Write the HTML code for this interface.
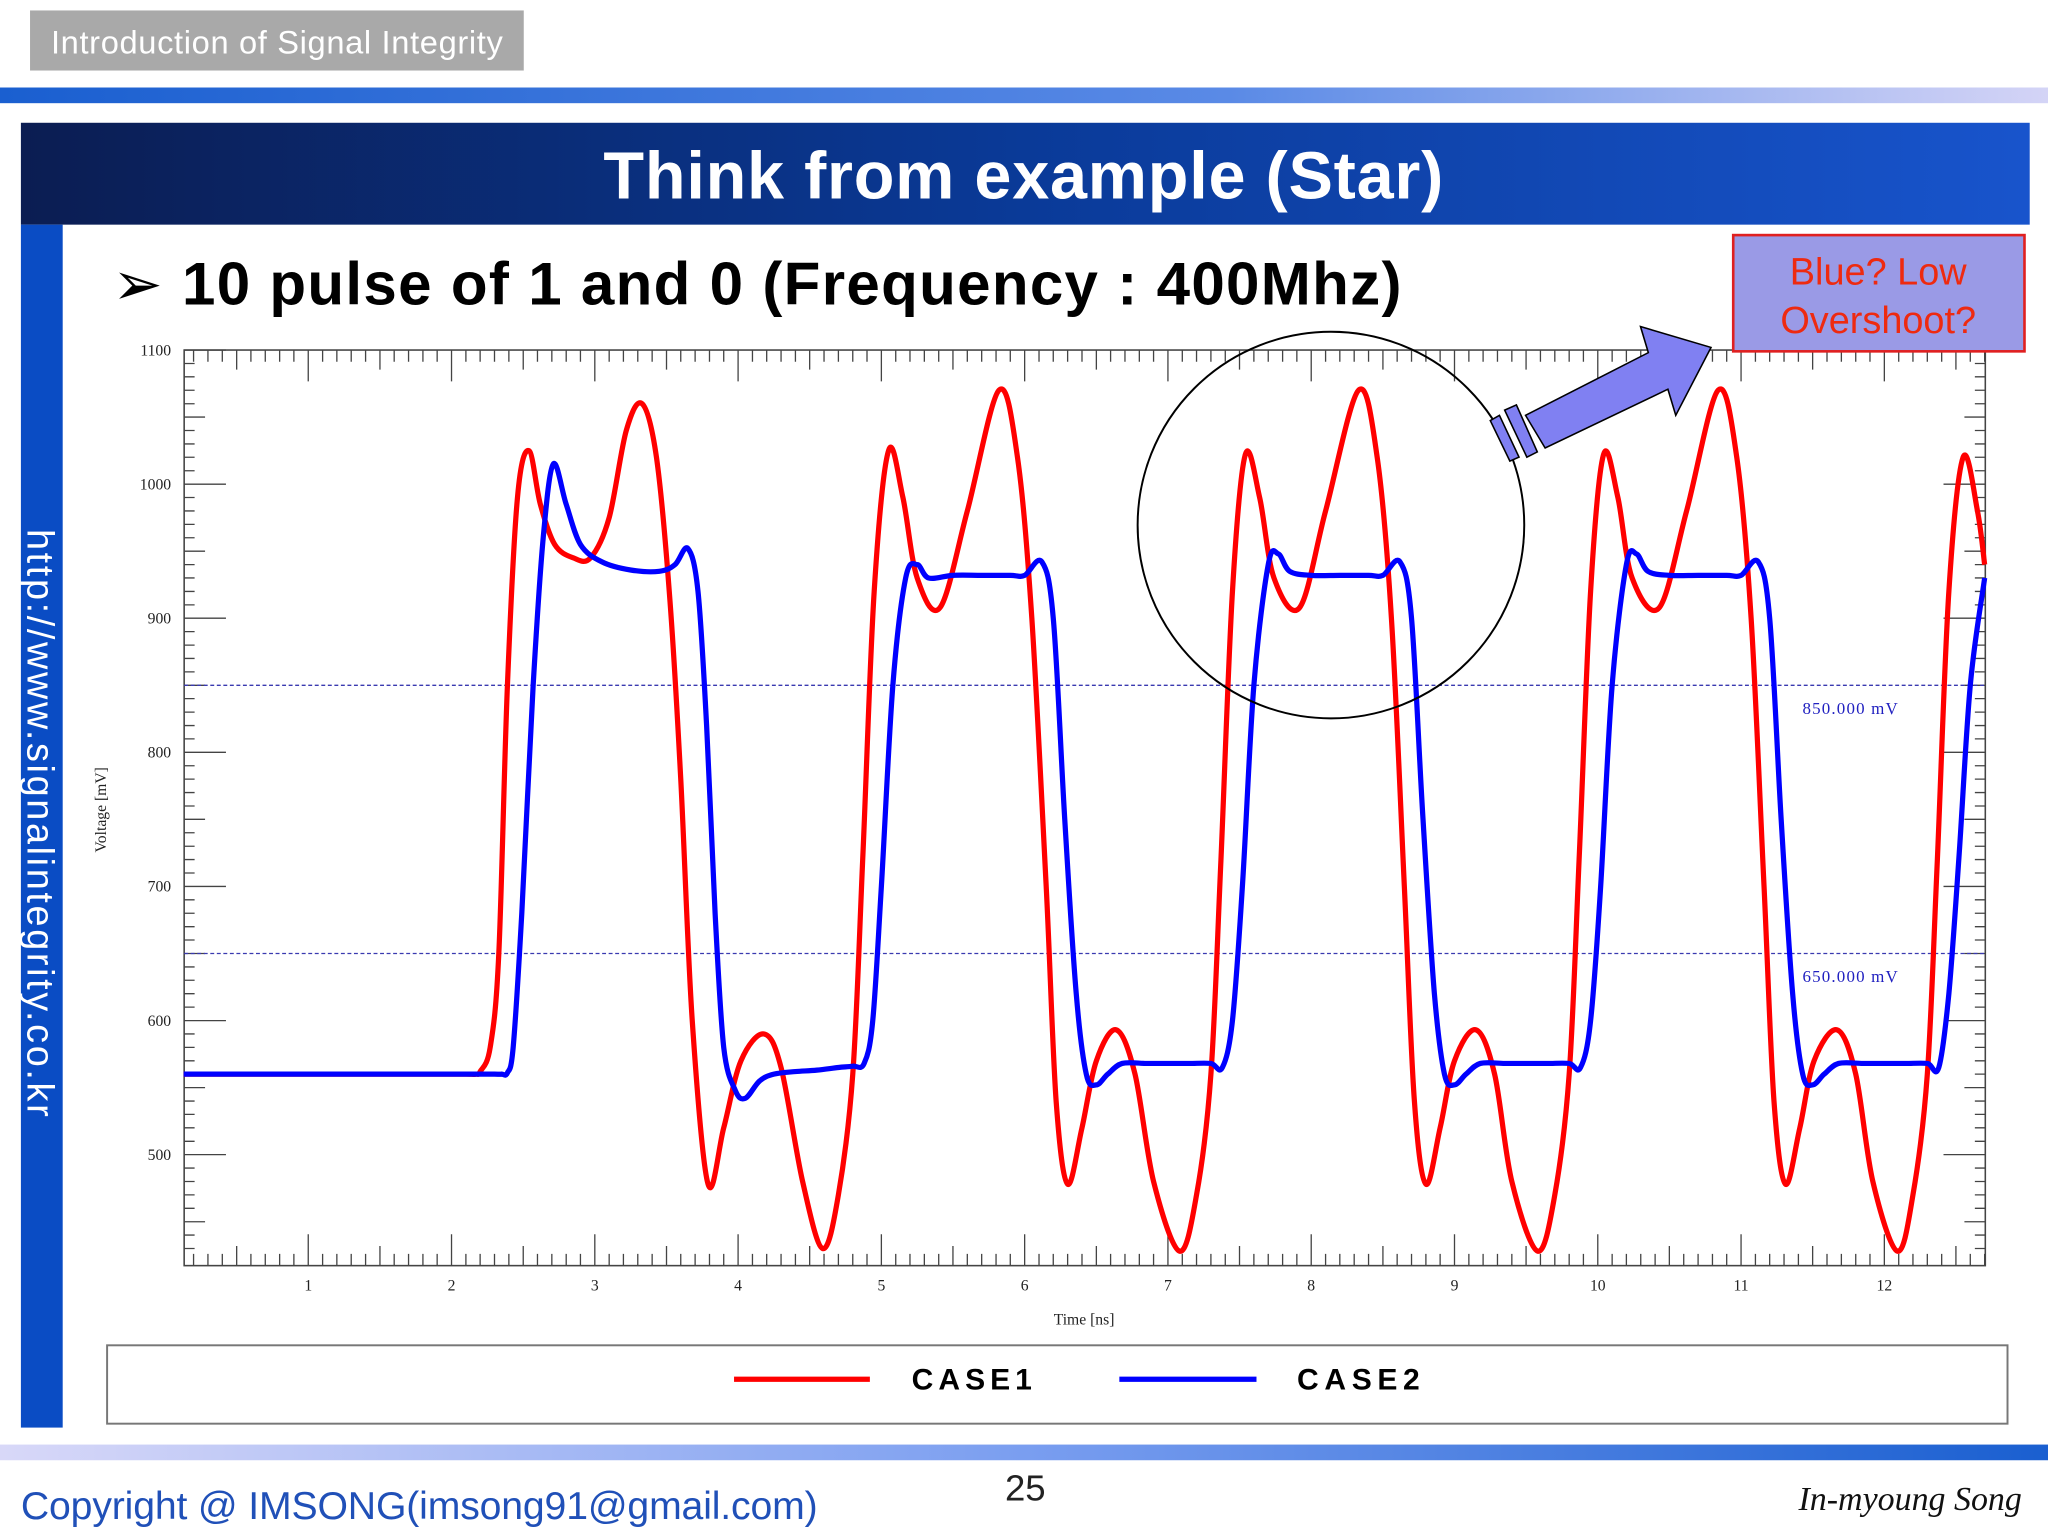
<!DOCTYPE html>
<html><head><meta charset="utf-8"><style>
html,body{margin:0;padding:0;background:#fff;}
svg{display:block;}
</style></head><body>
<svg id="slide" width="2048" height="1536" viewBox="0 0 1568 1176" xmlns="http://www.w3.org/2000/svg">
<defs>
<linearGradient id="topbar" x1="0" x2="1"><stop offset="0" stop-color="#1a5fd0"/><stop offset="0.6" stop-color="#5a8ae6"/><stop offset="1" stop-color="#d4d4f6"/></linearGradient>
<linearGradient id="botbar" x1="0" x2="1"><stop offset="0" stop-color="#d8d8f8"/><stop offset="0.5" stop-color="#7a9ef0"/><stop offset="1" stop-color="#1a5fd0"/></linearGradient>
<linearGradient id="banner" x1="0" x2="1"><stop offset="0" stop-color="#0b1d52"/><stop offset="0.5" stop-color="#0a3a98"/><stop offset="1" stop-color="#1854cc"/></linearGradient>
</defs>
<rect x="23" y="8" width="378" height="46" fill="#a9a9a9"/>
<text x="39" y="41" font-family="Liberation Sans, sans-serif" font-size="25" fill="#fff" textLength="346">Introduction of Signal Integrity</text>
<rect x="0" y="67" width="1568" height="12" fill="url(#topbar)"/>
<rect x="16" y="94" width="1538" height="78" fill="url(#banner)"/>
<text x="462" y="152" font-family="Liberation Sans, sans-serif" font-weight="bold" font-size="51" fill="#fff" textLength="643">Think from example (Star)</text>
<rect x="16" y="172" width="32" height="921" fill="#0a4cc4"/>
<text transform="translate(21,405) rotate(90)" font-family="Liberation Sans, sans-serif" font-size="29" fill="#fff" textLength="450">http://www.signalintegrity.co.kr</text>
<text x="86" y="233" font-family="Liberation Sans, 'DejaVu Sans', sans-serif" font-weight="bold" font-size="46" fill="#000" textLength="987">➢ 10 pulse of 1 and 0 (Frequency : 400Mhz)</text>
<g id="chart"></g>
<ellipse cx="1019" cy="402" rx="148" ry="148" fill="none" stroke="#000" stroke-width="1.5"/>
<g fill="#8080f2" stroke="#000" stroke-width="1.2">
<polygon points="1168,318 1262,270 1256,250 1310,266 1283,318 1277,298 1183,343"/>
<polygon points="1141,322 1148,318 1163,350 1156,353"/>
<polygon points="1152,314 1161,310 1177,346 1169,350"/>
</g>
<rect x="1327" y="180" width="223" height="89" fill="#9a9ae6" stroke="#e02020" stroke-width="2"/>
<text font-family="Liberation Sans, sans-serif" font-size="29" fill="#ee2a10" text-anchor="middle"><tspan x="1438" y="218">Blue? Low</tspan><tspan x="1438" y="255">Overshoot?</tspan></text>
<rect x="82" y="1030" width="1455" height="60" fill="#fff" stroke="#777" stroke-width="1.5"/>
<line x1="562" y1="1056" x2="666" y2="1056" stroke="#f00" stroke-width="4"/>
<text x="698" y="1064" font-family="Liberation Sans, sans-serif" font-weight="bold" font-size="23" textLength="92">CASE1</text>
<line x1="857" y1="1056" x2="962" y2="1056" stroke="#00f" stroke-width="4"/>
<text x="993" y="1064" font-family="Liberation Sans, sans-serif" font-weight="bold" font-size="23" textLength="94">CASE2</text>
<rect x="0" y="1106" width="1568" height="12" fill="url(#botbar)"/>
<text x="16" y="1163" font-family="Liberation Sans, sans-serif" font-size="30" fill="#2050b8" textLength="610">Copyright @ IMSONG(imsong91@gmail.com)</text>
<text x="785" y="1149" text-anchor="middle" font-family="Liberation Sans, sans-serif" font-size="28" fill="#222">25</text>
<text x="1548" y="1156" text-anchor="end" font-family="Liberation Serif, serif" font-style="italic" font-size="26" fill="#111">In-myoung Song</text>
</svg>
<script>
const xTicks=[1,2,3,4,5,6,7,8,9,10,11,12];
const yTicks=[500,600,700,800,900,1000,1100];
const refLevels=[850,650];
const refLabels=["850.000 mV","650.000 mV"];
const case1T=[0.13,0.7,1.3,1.9,2.1,2.17,2.2,2.27,2.33,2.39,2.46,2.54,2.62,2.72,2.85,2.97,3.1,3.22,3.33,3.43,3.52,3.6,3.68,3.79,3.9,4.02,4.18,4.3,4.45,4.59,4.7,4.8,4.87,4.95,5.05,5.15,5.25,5.41,5.6,5.82,5.95,6.05,6.15,6.22,6.3,6.4,6.5,6.64,6.77,6.9,7.08,7.2,7.3,7.37,7.45,7.54,7.64,7.74,7.92,8.1,8.33,8.46,8.56,8.65,8.72,8.8,8.9,9.0,9.15,9.28,9.4,9.58,9.7,9.8,9.87,9.95,10.04,10.14,10.24,10.43,10.62,10.84,10.97,11.07,11.16,11.23,11.31,11.41,11.51,11.67,11.8,11.92,12.09,12.2,12.3,12.37,12.45,12.55,12.65,12.7];
const case1V=[560,560,560,560,560,560,562,580,650,850,990,1025,985,955,945,945,975,1040,1060,1020,920,780,600,478,520,570,590,565,480,430,470,560,720,920,1025,990,930,908,980,1070,1020,900,700,540,478,520,570,593,560,480,428,470,560,720,920,1022,990,930,908,980,1070,1020,900,700,540,478,520,570,593,560,480,428,470,560,720,920,1022,990,930,908,980,1070,1020,900,700,540,478,520,570,593,560,480,428,470,560,720,920,1020,980,940];
const case2T=[0.13,0.7,1.3,1.9,2.2,2.3,2.35,2.39,2.43,2.49,2.57,2.64,2.71,2.8,2.9,3.05,3.25,3.45,3.56,3.65,3.72,3.78,3.84,3.9,3.98,4.05,4.15,4.25,4.4,4.55,4.7,4.8,4.88,4.94,5.0,5.08,5.17,5.25,5.33,5.5,5.7,5.9,6.0,6.12,6.2,6.28,6.36,6.43,6.5,6.58,6.68,6.85,7.0,7.15,7.3,7.38,7.45,7.52,7.6,7.7,7.77,7.85,8.0,8.2,8.4,8.5,8.62,8.7,8.78,8.86,8.93,9.0,9.08,9.18,9.35,9.5,9.65,9.8,9.88,9.95,10.02,10.1,10.2,10.27,10.35,10.5,10.7,10.9,11.0,11.12,11.2,11.28,11.36,11.43,11.5,11.58,11.68,11.85,12.0,12.15,12.3,12.38,12.45,12.52,12.6,12.7];
const case2V=[560,560,560,560,560,560,560,561,580,680,850,960,1015,985,955,942,936,935,940,952,920,820,680,580,548,542,555,560,562,563,565,566,568,600,700,850,930,940,930,932,932,932,932,942,900,750,620,560,552,560,568,568,568,568,568,565,600,700,850,940,948,935,932,932,932,932,942,900,750,620,560,552,560,568,568,568,568,568,565,600,700,850,940,948,935,932,932,932,932,942,900,750,620,560,552,560,568,568,568,568,568,565,620,720,850,930];

const NS='http://www.w3.org/2000/svg';
const L=141,R=1520,T=268,B=969;
const xMin=(L-126.3)/109.7, xMax=(R-126.3)/109.7, yMin=1100-(B-T)/1.0267, yMax=1100;
function xs(t){return L+(t-xMin)/(xMax-xMin)*(R-L);}
function ys(v){return T+(yMax-v)/(yMax-yMin)*(B-T);}
const chart=document.getElementById('chart');
function mk(tag,attrs){const e=document.createElementNS(NS,tag);for(const k in attrs)e.setAttribute(k,attrs[k]);chart.appendChild(e);return e;}

let e=mk('rect',{x:L,y:T,width:R-L,height:B-T,fill:'#fff',stroke:'#444','stroke-width':1.2});



let d='';
for(let i=Math.ceil(xMin*10);i<=Math.floor(xMax*10);i++){
  const t=i/10,x=xs(t).toFixed(1);
  const len=(i%10===0)?24:(i%5===0?15:9);
  d+=`M${x},${T}v${len}M${x},${B}v${-len}`;
}
for(let v=430;v<=1100;v+=10){
  const y=ys(v).toFixed(1);
  const len=(v%100===0)?32:(v%50===0?16:8);
  d+=`M${L},${y}h${len}M${R},${y}h${-len}`;
}
e=mk('path',{d:d,stroke:'#444','stroke-width':1,fill:'none'});



xTicks.forEach(t=>{
  const tx=mk('text',{x:xs(t),y:988,'text-anchor':'middle','font-family':'Liberation Serif, serif','font-size':12,fill:'#222'});
  tx.textContent=t;
  
  
});
yTicks.forEach(v=>{
  const tx=mk('text',{x:131,y:ys(v)+4,'text-anchor':'end','font-family':'Liberation Serif, serif','font-size':12,fill:'#222'});
  tx.textContent=v;
  
  
});
e=mk('text',{x:830,y:1014,'text-anchor':'middle','font-family':'Liberation Serif, serif','font-size':12,fill:'#222'});
e.textContent='Time [ns]';


e=mk('text',{transform:'translate(81,620) rotate(-90)','text-anchor':'middle','font-family':'Liberation Serif, serif','font-size':12,fill:'#222'});
e.textContent='Voltage [mV]';



refLevels.forEach((v,i)=>{
  const ln=mk('line',{x1:L,x2:R,y1:ys(v),y2:ys(v),stroke:'#3a3ab0','stroke-width':1,'stroke-dasharray':'3,2'});
  
  
  const tx=mk('text',{x:1380,y:ys(v)+22,'font-family':'Liberation Serif, serif','font-size':13,fill:'#2020c0',textLength:73});
  tx.textContent=refLabels[i];
  
  
});

function curve(T_,V_){
  const p=T_.map((t,i)=>[xs(t),ys(V_[i])]);
  let s=`M${p[0][0].toFixed(1)},${p[0][1].toFixed(1)}`;
  for(let i=0;i<p.length-1;i++){
    const p0=p[Math.max(0,i-1)],p1=p[i],p2=p[i+1],p3=p[Math.min(p.length-1,i+2)];
    const c1=[p1[0]+(p2[0]-p0[0])/6,p1[1]+(p2[1]-p0[1])/6];
    const c2=[p2[0]-(p3[0]-p1[0])/6,p2[1]-(p3[1]-p1[1])/6];
    s+=`C${c1[0].toFixed(1)},${c1[1].toFixed(1)} ${c2[0].toFixed(1)},${c2[1].toFixed(1)} ${p2[0].toFixed(1)},${p2[1].toFixed(1)}`;
  }
  return s;
}
e=mk('path',{d:curve(case1T,case1V),fill:'none',stroke:'#f00','stroke-width':4,'stroke-linejoin':'round'});


e=mk('path',{d:curve(case2T,case2V),fill:'none',stroke:'#00f','stroke-width':4,'stroke-linejoin':'round'});


</script>
</body></html>
